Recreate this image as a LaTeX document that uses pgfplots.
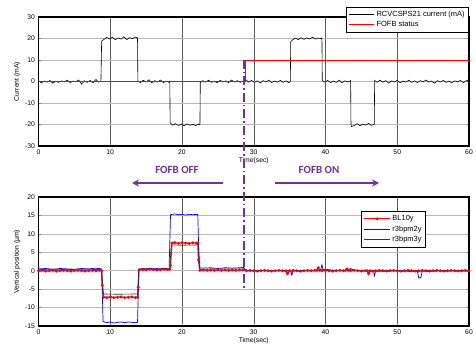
\documentclass[border=0pt]{standalone}
\usepackage{pgfplots}
\pgfplotsset{compat=1.18}
\usepackage{fontspec}
\setmainfont{Liberation Sans}
\newfontfamily\calib{Carlito}
\usetikzlibrary{arrows.meta}
\definecolor{fpurple}{RGB}{112,48,160}
\definecolor{mblue}{RGB}{0,0,255}
\pgfplotsset{
  mystyle/.style={
    scale only axis, width=430.5bp, height=129bp,
    xmin=0, xmax=60, xtick={0,10,...,60},
    tick align=inside, xtick pos=both, ytick pos=both,
    major tick length=2.5bp,
    axis line style={line width=1.2pt},
    grid=major,
    x grid style={gray!70!black, line width=0.5pt},
    y grid style={gray!55, line width=0.6pt},
    tick label style={font=\fontsize{6.8}{7}\selectfont},
    label style={font=\fontsize{6.8}{7}\selectfont},
    /pgf/number format/assume math mode=true,
    xlabel={Time(sec)},
    xlabel style={yshift=4bp},
    ylabel style={yshift=-2bp},
    legend style={font=\fontsize{7.5}{8}\selectfont, draw=black, line width=0.8pt, inner sep=2pt, row sep=-0.5pt},
    legend cell align=left,
    legend image code/.code={\draw[mark repeat=2,mark phase=2,#1] plot coordinates {(0cm,0cm)(0.45cm,0cm)(0.9cm,0cm)};},
  }
}
\begin{document}
\begin{tikzpicture}
\path[use as bounding box] (0bp,0bp) rectangle (476bp,353bp);
\begin{axis}[mystyle, at={(38.5bp,207bp)}, anchor=south west,
  ymin=-30, ymax=30, ytick={-30,-20,...,30},
  ylabel={Current (mA)},
  legend style={at={(1,1.08)}, anchor=north east}]
\addplot[black, line width=0.6pt] coordinates {
(0,0.4)(0.4,-0.6)(0.8,0.2)(1.2,-0.3)(1.6,0.5)(2.0,-0.8)(2.4,0.1)(2.8,-0.4)(3.2,0.3)(3.6,-0.2)(4.0,0.6)(4.4,-0.5)(4.8,0.2)(5.2,-0.1)(5.6,0.7)(6.0,-1.2)(6.4,0.3)(6.8,-0.4)(7.2,0.5)(7.6,-0.6)(8.0,0.9)(8.4,-0.3)(8.7,0.2)
(8.8,18.8)(9.1,19.5)(9.5,20.5)(9.9,19.8)(10.3,20.6)(10.7,19.4)(11.1,20.3)(11.5,19.7)(11.9,20.8)(12.3,19.5)(12.7,20.4)(13.1,19.9)(13.5,20.7)(13.8,20.2)
(13.85,0.3)(14.2,-0.5)(14.6,0.6)(15.0,-0.2)(15.4,0.8)(15.8,-0.6)(16.2,0.4)(16.6,-0.3)(17.0,0.7)(17.4,-0.5)(17.8,0.2)(18.2,-0.4)(18.3,0.1)
(18.35,-19.2)(18.7,-20.3)(19.1,-19.6)(19.5,-20.5)(19.9,-19.8)(20.3,-20.6)(20.7,-19.7)(21.1,-20.4)(21.5,-19.9)(21.9,-20.5)(22.3,-19.8)(22.5,-20.1)
(22.55,-0.5)(22.9,0.4)(23.3,-0.3)(23.7,0.6)(24.1,-0.4)(24.5,0.2)(24.9,-0.6)(25.3,0.5)(25.7,-0.2)(26.1,0.3)(26.5,-0.5)(26.9,0.7)(27.3,-0.3)(27.7,0.4)(28.1,-0.4)(28.5,0.2)(28.9,0.8)(29.3,-0.3)(29.7,0.5)(30.1,-0.4)(30.5,0.3)(30.9,-0.7)(31.3,0.4)(31.7,-0.2)(32.1,0.6)(32.5,-0.5)(32.9,0.2)(33.3,-0.3)(33.7,0.5)(34.1,-0.4)(34.5,0.3)(34.9,-0.6)(35.1,0.2)
(35.15,18.5)(35.4,19.3)(35.8,20.2)(36.2,19.5)(36.6,20.4)(37.0,19.6)(37.4,20.3)(37.8,19.8)(38.2,20.6)(38.6,19.7)(39.0,20.2)(39.4,19.9)(39.5,20.3)
(39.55,0.4)(39.9,-0.3)(40.3,0.5)(40.7,-0.5)(41.1,0.2)(41.5,-0.4)(41.9,0.6)(42.3,-0.6)(42.7,0.3)(43.1,-0.2)(43.5,0.4)
(43.55,-19.5)(43.6,-21.0)(44.0,-20.5)(44.4,-19.6)(44.8,-20.6)(45.2,-19.8)(45.6,-20.3)(46.0,-19.5)(46.4,-20.4)(46.8,-19.9)
(46.85,0.5)(47.2,-0.4)(47.6,0.6)(48.0,-0.3)(48.4,0.4)(48.8,-0.7)(49.2,0.3)(49.6,-0.2)(50.0,0.5)(50.4,-0.6)(50.8,0.2)(51.2,-0.3)(51.6,0.6)(52.0,-0.4)(52.4,0.3)(52.8,-0.5)(53.2,0.4)(53.6,-0.2)(54.0,0.7)(54.4,-0.3)(54.8,0.2)(55.2,-0.8)(55.6,0.4)(56.0,-0.3)(56.4,0.5)(56.8,-0.4)(57.2,0.2)(57.6,-0.6)(58.0,0.3)(58.4,-0.2)(58.8,0.5)(59.2,-0.5)(59.6,0.3)(60,0.8)
};
\addlegendentry{RCVCSPS21 current (mA)}
\addplot[red, line width=0.8pt] coordinates {(0,0)(28.9,0)(28.9,10)(60,10)};
\addlegendentry{FOFB status}
\end{axis}

\begin{axis}[mystyle, at={(38.5bp,27bp)}, anchor=south west,
  ymin=-15, ymax=20, ytick={-15,-10,...,20},
  ylabel={Vertical position (µm)},
  legend style={at={(0.9,0.891)}, anchor=north east}]
\addplot[red, line width=1.2pt, mark=*, mark size=0.8pt] coordinates {
(0,0)(0.5,0.1)(1,-0.1)(1.5,0)(2,0.1)(2.5,-0.1)(3,0)(3.5,0.1)(4,0)(4.5,-0.1)(5,0)(5.5,0.1)(6,0)(6.5,-0.1)(7,0)(7.5,0.1)(8,0)(8.5,0.1)(8.8,0)
(8.9,-4)(9.1,-7.2)(9.5,-7.3)(10,-7.1)(10.5,-7.3)(11,-7.2)(11.5,-7.1)(12,-7.3)(12.5,-7.2)(13,-7.1)(13.5,-7.3)(13.8,-7.2)
(13.9,-4.5)(14.0,0.2)(14.5,0.3)(15,0.2)(15.5,0.4)(16,0.3)(16.5,0.2)(17,0.3)(17.5,0.4)(18,0.3)(18.3,0.4)
(18.4,1.5)(18.6,7.5)(19,7.6)(19.5,7.4)(20,7.6)(20.5,7.5)(21,7.4)(21.5,7.6)(22,7.5)(22.2,7.5)
(22.3,3)(22.5,0.1)(23,0.2)(23.5,0.1)(24,0.2)(24.5,0.1)(25,0.2)(25.5,0.1)(26,0.2)(26.5,0.1)(27,0.2)(27.5,0.1)(28,0.2)(28.5,0.2)
(29,0)(29.5,0.1)(30,0)(30.5,-0.1)(31,0)(31.5,0.1)(32,0)(32.5,-0.1)(33,0)(33.5,0.1)(34,0)(34.5,0)(34.7,-0.8)(35,0)(35.5,0.1)(36,0)(36.5,-0.1)(37,0)(37.5,0.1)(38,0)(38.5,0.1)(38.8,0.1)(39,0.8)(39.2,0.1)(39.5,0)(40,0.1)(40.5,0)(41,-0.1)(41.5,0)(42,0.1)(42.5,0)(42.8,0.1)(43,0.5)(43.2,0.1)(43.5,0)(44,0.1)(44.5,0)(45,-0.1)(45.5,0)(45.8,0)(46,-0.8)(46.2,0)(46.5,-0.1)(47,0)(47.5,0.1)(48,0)(48.5,-0.1)(49,0)(49.5,0.1)(50,0)(50.5,-0.1)(51,0)(51.5,0.1)(52,0)(52.5,-0.1)(53,0)(53.5,0.1)(54,0)(54.5,-0.1)(55,0)(55.5,0.1)(56,0)(56.5,-0.1)(57,0)(57.5,0.1)(58,0)(58.5,-0.1)(59,0)(59.5,0.1)(60,0)
};
\addlegendentry{BL10y}
\addplot[color=mblue, line width=0.7pt] coordinates {
(0,0.5)(1,0.6)(2,0.4)(3,0.6)(4,0.5)(5,0.4)(6,0.6)(7,0.5)(8,0.7)(8.8,0.5)
(9.0,-13.8)(9.5,-14.1)(10,-13.9)(10.5,-14.2)(11,-14.0)(11.5,-13.9)(12,-14.1)(12.5,-13.9)(13,-14.0)(13.5,-14.1)(13.8,-14.0)
(14.0,0.4)(14.5,0.6)(15,0.5)(15.5,0.7)(16,0.5)(16.5,0.6)(17,0.5)(17.5,0.7)(18.2,0.5)
(18.4,15.2)(19,15.4)(19.5,15.2)(20,15.3)(20.5,15.1)(21,15.3)(21.5,15.2)(22.2,15.3)
(22.4,0.8)(23,0.7)(24,0.8)(25,0.6)(26,0.8)(27,0.7)(28,0.8)(28.6,0.9)
(28.9,0.1)(30,0)(31,0.05)(32,-0.05)(33,0.05)(34,0)(35.1,0)(35.3,-1.2)(35.5,0)(37,0.05)(38,-0.05)(39.3,0.1)(39.5,1.6)(39.7,0.2)(40,0.4)(41,0.1)(42,0)(43.3,0.1)(43.5,0.6)(43.8,0.3)(44.5,0.1)(46,0)(46.7,0)(46.8,-1.4)(47,-0.1)(48,0)(50,0.05)(52,0)(52.8,0)(53,-2)(53.3,-1.8)(53.5,0)(55,0.05)(57,0)(59,0.05)(60,0)
};
\addlegendentry{r3bpm2y}
\addplot[color=black!80, line width=0.6pt] coordinates {
(0,0.3)(2,0.4)(4,0.3)(6,0.4)(8.8,0.3)(9.0,-6.3)(11,-6.4)(13.8,-6.3)(14.0,0.5)(16,0.4)(18.3,0.5)
(18.5,7.0)(20,6.9)(22.3,7.0)(22.5,0.4)(25,0.5)(28.7,0.5)(28.9,-0.1)(32,0)(35,-0.1)(35.3,-0.4)(35.6,-0.1)(39.4,0)(39.6,0.5)(39.8,0.1)(43.5,0.2)(45,0)(46.8,-0.2)(50,-0.1)(53,-0.3)(56,-0.1)(60,-0.1)
};
\addlegendentry{r3bpm3y}
\end{axis}

% annotations
\draw[fpurple, line width=1.5bp, dash pattern=on 9bp off 3bp on 1.5bp off 3bp] (244bp,293bp) -- (244bp,63bp);
\draw[fpurple, line width=2bp, -{Stealth[length=7bp,width=7bp]}] (223bp,170bp) -- (132bp,170bp);
\draw[fpurple, line width=2bp, -{Stealth[length=7bp,width=7bp]}] (275bp,170bp) -- (379bp,170bp);
\node[fpurple, font=\calib\bfseries\fontsize{11}{12}\selectfont] at (177bp,183bp) {FOFB OFF};
\node[fpurple, font=\calib\bfseries\fontsize{11}{12}\selectfont] at (319bp,183bp) {FOFB ON};
\end{tikzpicture}
\end{document}
